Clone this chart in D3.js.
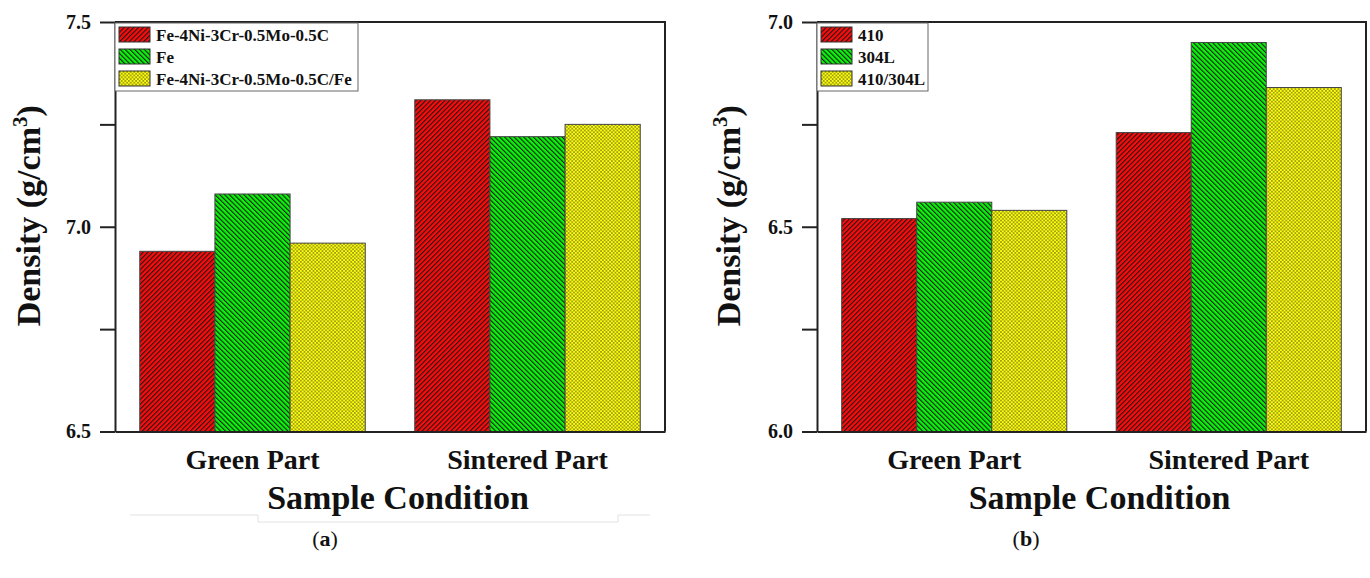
<!DOCTYPE html>
<html>
  <head>
    <meta charset="utf-8">
    <title>Density bar charts</title>
    <script src="https://cdn.jsdelivr.net/npm/d3@7"></script>
    <style>
      body { margin: 0; background: #fff; }
      svg { display: block; }
      text { font-family: "Liberation Serif", "Times New Roman", serif; font-weight: bold; fill: #111; }
      .axis path, .axis line { stroke: #222; stroke-width: 2; }
      .bar { stroke: #444; stroke-width: 1; }
    </style>
  </head>
  <body>
    <script>
    // data
    const categories = ["Green Part", "Sintered Part"];

    const seriesA = ["Fe-4Ni-3Cr-0.5Mo-0.5C", "Fe", "Fe-4Ni-3Cr-0.5Mo-0.5C/Fe"];
    const valuesA1 = [6.94, 7.31];
    const valuesA2 = [7.08, 7.22];
    const valuesA3 = [6.96, 7.25];
    const domainA = [6.5, 7.5];
    const ticksA = [6.5, 7.0, 7.5];
    const minorA = [6.75, 7.25];

    const seriesB = ["410", "304L", "410/304L"];
    const valuesB1 = [6.52, 6.73];
    const valuesB2 = [6.56, 6.95];
    const valuesB3 = [6.54, 6.84];
    const domainB = [6.0, 7.0];
    const ticksB = [6.0, 6.5, 7.0];
    const minorB = [6.25, 6.75];

    const fills = ["url(#hatchRed)", "url(#hatchGreen)", "url(#dotYellow)"];
    const serif = "'Liberation Serif', 'Times New Roman', serif";

    const W = 1370, H = 578;
    const svg = d3.select("body").append("svg")
      .attr("width", W).attr("height", H);

    // patterns
    const defs = svg.append("defs");
    function lines(id, color, angle) {
      const s = 3.4;
      const p = defs.append("pattern").attr("id", id)
        .attr("patternUnits", "userSpaceOnUse")
        .attr("width", s).attr("height", s)
        .attr("patternTransform", "rotate(" + angle + ")");
      p.append("rect").attr("width", s).attr("height", s).attr("fill", color);
      p.append("rect").attr("x", 0).attr("width", 1.1).attr("height", s).attr("fill", "#1a1a1a");
    }
    lines("hatchRed", "#ff0a0a", 45);
    lines("hatchGreen", "#0af50a", -45);
    const dp = defs.append("pattern").attr("id", "dotYellow")
      .attr("patternUnits", "userSpaceOnUse")
      .attr("width", 3.6).attr("height", 3.6);
    dp.append("rect").attr("width", 3.6).attr("height", 3.6).attr("fill", "#ffff0a");
    dp.append("circle").attr("cx", 0.9).attr("cy", 0.9).attr("r", 0.75).attr("fill", "#2a2a2a");
    dp.append("circle").attr("cx", 2.7).attr("cy", 2.7).attr("r", 0.75).attr("fill", "#2a2a2a");

    function drawPanel(cfg) {
      const g = svg.append("g");
      const x0 = d3.scaleBand().domain(categories)
        .range([cfg.left, cfg.right]).paddingInner(0.18).paddingOuter(0.09);
      const x1 = d3.scaleBand().domain(d3.range(3)).range([0, x0.bandwidth()]);
      const y = d3.scaleLinear().domain(cfg.domain).range([cfg.bottom, cfg.top]);

      const rows = categories.map((c, i) => ({c: c, v: cfg.values.map(s => s[i])}));

      g.selectAll(".grp").data(rows).enter().append("g")
        .attr("transform", d => "translate(" + x0(d.c) + ",0)")
        .selectAll("rect").data(d => d.v).enter().append("rect")
        .attr("class", "bar")
        .attr("x", (d, i) => x1(i))
        .attr("width", x1.bandwidth())
        .attr("y", d => y(d))
        .attr("height", d => cfg.bottom - y(d))
        .attr("fill", (d, i) => fills[i]);

      // frame top + right
      g.append("path")
        .attr("d", "M" + cfg.left + "," + cfg.top + "H" + cfg.right + "V" + cfg.bottom)
        .attr("fill", "none").attr("stroke", "#222").attr("stroke-width", 2);

      const ya = g.append("g").attr("class", "axis")
        .attr("transform", "translate(" + cfg.left + ",0)")
        .call(d3.axisLeft(y).tickValues(cfg.ticks).tickSize(15).tickPadding(9)
          .tickSizeOuter(0).tickFormat(d3.format(".1f")));
      ya.attr("font-family", null).attr("font-size", null);
      ya.selectAll("text")
        .style("font-family", serif).style("font-size", "20px")
        .style("font-weight", "bold").attr("fill", "#111");

      g.append("g").attr("class", "axis")
        .attr("transform", "translate(" + cfg.left + ",0)")
        .call(d3.axisLeft(y).tickValues(cfg.minor).tickSize(15)
          .tickSizeOuter(0).tickFormat(""))
        .select(".domain").remove();

      g.append("g").attr("class", "axis")
        .attr("transform", "translate(0," + cfg.bottom + ")")
        .call(d3.axisBottom(x0).tickSize(0).tickSizeOuter(0).tickPadding(0).tickFormat(""));

      g.selectAll(".cat").data(categories).enter().append("text")
        .attr("x", d => x0(d) + x0.bandwidth() / 2)
        .attr("y", cfg.bottom + 37)
        .attr("text-anchor", "middle")
        .style("font-size", "28px")
        .text(d => d);

      g.append("text")
        .attr("x", (cfg.left + cfg.right) / 2 + 8)
        .attr("y", cfg.bottom + 77)
        .attr("text-anchor", "middle")
        .style("font-size", "34px")
        .text("Sample Condition");

      const yt = g.append("text")
        .attr("transform", "translate(" + cfg.titleX + "," + ((cfg.top + cfg.bottom) / 2 - 11) + ") rotate(-90)")
        .attr("text-anchor", "middle")
        .style("font-size", "34px");
      yt.append("tspan").text("Density (g/cm");
      yt.append("tspan").attr("dy", -13).style("font-size", "21px").text("3");
      yt.append("tspan").attr("dy", 13).text(")");

      // legend
      const lg = g.append("g").attr("transform", "translate(" + cfg.left + "," + (cfg.top + 1) + ")");
      lg.append("rect").attr("width", cfg.legendW).attr("height", 68)
        .attr("fill", "#fff").attr("stroke", "#666").attr("stroke-width", 1);
      const item = lg.selectAll(".it").data(cfg.series).enter().append("g")
        .attr("transform", (d, i) => "translate(4," + (4 + i * 22) + ")");
      item.append("rect").attr("width", 31).attr("height", 15)
        .attr("fill", (d, i) => fills[i]).attr("stroke", "#333");
      item.append("text").attr("x", 37).attr("y", 14)
        .style("font-size", "17px").text(d => d);

      svg.append("text")
        .attr("x", cfg.capX).attr("y", 546)
        .attr("text-anchor", "middle")
        .style("font-size", "22px").style("font-weight", "normal")
        .html("(<tspan font-weight='bold'>" + cfg.cap + "</tspan>)");
    }

    // faint box left around the x title of panel (a)
    svg.append("path")
      .attr("d", "M130,515H258V522H618V515H650")
      .attr("fill", "none").attr("stroke", "#e2e2e2").attr("stroke-width", 1);

    drawPanel({
      left: 115, right: 665, top: 22, bottom: 431.5,
      domain: domainA, ticks: ticksA, minor: minorA,
      values: [valuesA1, valuesA2, valuesA3], series: seriesA,
      titleX: 40, legendW: 243, cap: "a", capX: 325
    });
    drawPanel({
      left: 817, right: 1366, top: 22, bottom: 431.5,
      domain: domainB, ticks: ticksB, minor: minorB,
      values: [valuesB1, valuesB2, valuesB3], series: seriesB,
      titleX: 740, legendW: 111, cap: "b", capX: 1026
    });
    </script>
  </body>
</html>
